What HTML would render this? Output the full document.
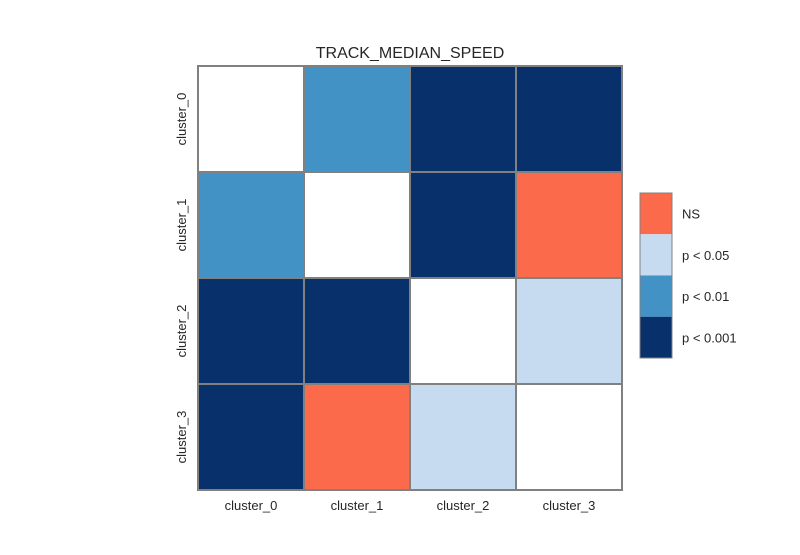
<!DOCTYPE html>
<html><head><meta charset="utf-8"><style>
body{margin:0;background:#fff;}
svg text{font-family:"Liberation Sans",Arial,sans-serif;fill:#262626;}
</style></head><body>
<svg id="chart" width="800" height="550" xmlns="http://www.w3.org/2000/svg">
<rect width="800" height="550" fill="#fff"/>
<text x="410" y="58" font-size="16" text-anchor="middle">TRACK_MEDIAN_SPEED</text>
<g id="cells"></g><g id="labels"></g><g id="legend"></g>
</svg>
<script>
const categories = ["cluster_0","cluster_1","cluster_2","cluster_3"];
// significance level index per cell: -1 diagonal, 0 NS, 1 p<0.05, 2 p<0.01, 3 p<0.001
const row0 = [-1, 2, 3, 3];
const row1 = [2, -1, 3, 0];
const row2 = [3, 3, -1, 1];
const row3 = [3, 0, 1, -1];
const legendLabels = ["NS","p < 0.05","p < 0.01","p < 0.001"];
const levelColors = ["#fb6a4a","#c6dbef","#4292c6","#08306b"];

const NS="http://www.w3.org/2000/svg";
const rows=[row0,row1,row2,row3];
const gx0=198,gy0=66,gw=424,gh=424;
const xPos=i=>gx0+i*gw/categories.length;
const yPos=i=>gy0+i*gh/categories.length;
const cw=gw/categories.length, ch=gh/categories.length;
const cells=document.getElementById('cells');
rows.forEach((r,ri)=>r.forEach((v,ci)=>{
  const el=document.createElementNS(NS,'rect');
  el.setAttribute('x',xPos(ci));el.setAttribute('y',yPos(ri));
  el.setAttribute('width',cw);el.setAttribute('height',ch);
  el.setAttribute('fill',v<0?'#ffffff':levelColors[v]);
  el.setAttribute('stroke','#808080');el.setAttribute('stroke-width','2');
  
  
  cells.appendChild(el);
}));
const labels=document.getElementById('labels');
categories.forEach((c,i)=>{
  const t=document.createElementNS(NS,'text');
  t.setAttribute('x',xPos(i)+cw/2);t.setAttribute('y',510);
  t.setAttribute('font-size','13');t.setAttribute('text-anchor','middle');
  t.textContent=c;
  
  
  labels.appendChild(t);
  const u=document.createElementNS(NS,'text');
  const cx=186,cy=yPos(i)+ch/2;
  u.setAttribute('x',cx);u.setAttribute('y',cy);
  u.setAttribute('font-size','13');u.setAttribute('text-anchor','middle');
  u.setAttribute('transform','rotate(-90 '+cx+' '+cy+')');
  u.textContent=c;
  
  
  labels.appendChild(u);
});
const lg=document.getElementById('legend');
const lx=640,ly=193,lw=32,lh=165/legendLabels.length;
legendLabels.forEach((l,i)=>{
  const r=document.createElementNS(NS,'rect');
  r.setAttribute('x',lx);r.setAttribute('y',ly+i*lh);r.setAttribute('width',lw);r.setAttribute('height',lh);
  r.setAttribute('fill',levelColors[i]);
  
  
  lg.appendChild(r);
  const t=document.createElementNS(NS,'text');
  t.setAttribute('x',682);t.setAttribute('y',ly+i*lh+lh/2+5);t.setAttribute('font-size','13');
  t.textContent=l;
  
  
  lg.appendChild(t);
});
const b=document.createElementNS(NS,'rect');
b.setAttribute('x',lx);b.setAttribute('y',ly);b.setAttribute('width',lw);b.setAttribute('height',165);
b.setAttribute('fill','none');b.setAttribute('stroke','#808080');b.setAttribute('stroke-width','1');


lg.appendChild(b);
</script>
</body></html>
